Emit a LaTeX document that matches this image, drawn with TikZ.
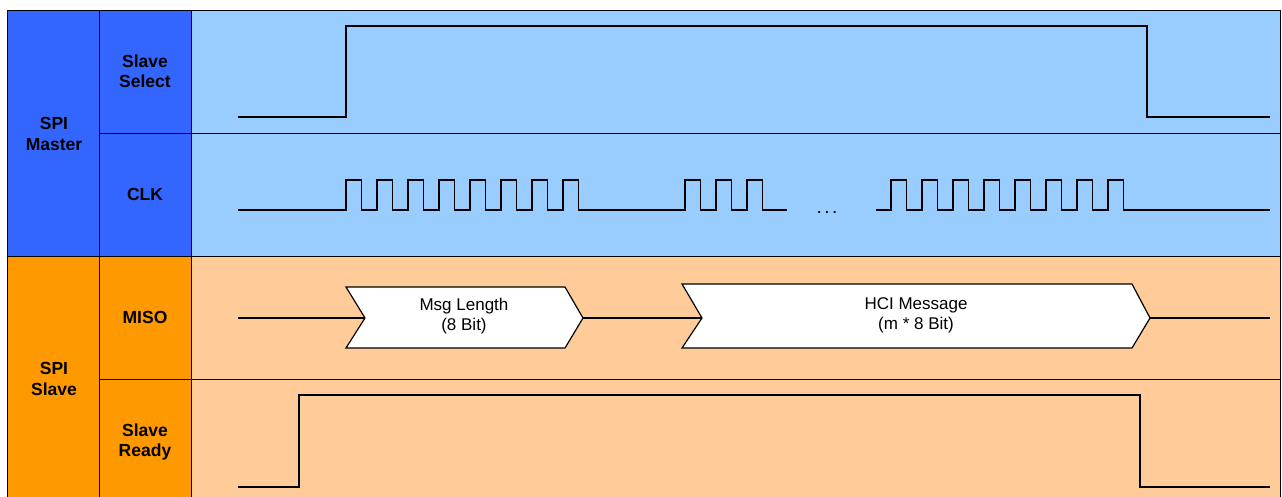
\documentclass[tikz,border=0pt]{standalone}
\usepackage{fontspec}
\setmainfont{Liberation Sans}
\definecolor{masterdark}{HTML}{3366FF}
\definecolor{masterlight}{HTML}{99CCFF}
\definecolor{slavedark}{HTML}{FF9900}
\definecolor{slavelight}{HTML}{FFCC99}

\begin{document}
\begin{tikzpicture}
[x=1pt,y=-1pt,every node/.style={align=center,font=\fontsize{17}{20}\selectfont},
 lbl/.style={font=\fontsize{17.5}{20.5}\selectfont\bfseries},
 sig/.style={line width=1.2pt},
 grid/.style={line width=0.8pt}]

  \useasboundingbox (0,0) rectangle (1282,497);
  \fill[masterdark] (7,10) rectangle (191,256);
  \fill[masterlight] (191,10) rectangle (1280,256);
  \fill[slavedark] (7,256) rectangle (191,497);
  \fill[slavelight] (191,256) rectangle (1280,497);

  \draw[grid] (7,497) -- (7,10) -- (1280,10) -- (1280,497);
  \foreach \x in {99,191}
    \draw[grid] (\x,10) -- (\x,497);
  \foreach \y/\from in {133/99,256/7,379/99}
    \draw[grid] (\from,\y) -- (1280,\y);

  \node[lbl] (master) at (54,134) {SPI\\Master};
  \node[lbl] (slave) at (54,379) {SPI\\Slave};
  \node[lbl] (ss) at (145,71) {Slave\\Select};
  \node[lbl] (clk) at (145,194) {CLK};
  \node[lbl] (miso) at (145,317) {MISO};
  \node[lbl] (ready) at (145,442) {Slave\\Ready};

  \draw[sig] (238,117) -- (346,117) -- (346,26) -- (1147,26) -- (1147,117) -- (1270,117);

  \draw[sig] (238,210) foreach \x in {346,377,...,563} { -- (\x,210) -- (\x,180) -- (\x+15.5,180) -- (\x+15.5,210) } -- (685,210)
    foreach \x in {685,716,747} { -- (\x,210) -- (\x,180) -- (\x+15.5,180) -- (\x+15.5,210) } -- (787,210);
  \node[anchor=base,font=\fontsize{19}{20}\selectfont] (dots) at (827,214) {.\hspace{2.5pt}.\hspace{2.5pt}.};
  \draw[sig] (876,210) foreach \x in {891,922,...,1108} { -- (\x,210) -- (\x,180) -- (\x+15.5,180) -- (\x+15.5,210) } -- (1270,210);

  \coordinate (misoin) at (238,318);
  \coordinate (lenin) at (365,318);
  \coordinate (lenout) at (583,318);
  \coordinate (hciin) at (702,318);
  \coordinate (hciout) at (1150,318);
  \coordinate (misoout) at (1270,318);
  \draw[sig,fill=white] (346,287) -- (565,287) -- (lenout) -- (565,348) -- (346,348) -- (lenin) -- cycle;
  \draw[sig,fill=white] (682,284) -- (1132,284) -- (hciout) -- (1132,348) -- (682,348) -- (hciin) -- cycle;
  \node (len) at (464,316) {Msg Length\\(8 Bit)};
  \node (hci) at (916,315) {HCI Message\\(m * 8 Bit)};
  \foreach \from/\to in {misoin/lenin,lenout/hciin,hciout/misoout}
    \draw[sig] (\from) -- (\to);

  \draw[sig] (238,487) -- (299,487) -- (299,395) -- (1140,395) -- (1140,487) -- (1270,487);

\end{tikzpicture}
\end{document}
